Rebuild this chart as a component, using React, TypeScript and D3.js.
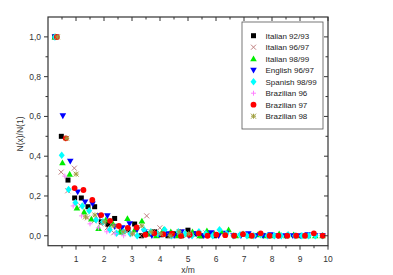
import React from "react";
import * as d3 from "d3";

const xTicks = [1, 2, 3, 4, 5, 6, 7, 8, 9, 10];
const yTicks = [0, 0.2, 0.4, 0.6, 0.8, 1.0];

const seriesNames = ["Italian 92/93", "Italian 96/97", "Italian 98/99", "English 96/97", "Spanish 98/99", "Brazilian 96", "Brazilian 97", "Brazilian 98"];
const seriesColors = ["#000000", "#c08080", "#00ee00", "#0000ff", "#00ffff", "#ff80ff", "#ff0000", "#a0a040"];
const seriesMarkers = ["square", "cross", "triangle", "down", "diamond", "plus", "circle", "star"];
// x/m spacing (1/m) for each series
const seriesSteps = [0.238, 0.235, 0.258, 0.265, 0.245, 0.3, 0.3165, 0.335];

const italian9293 = [1.0, 0.5, 0.28, 0.19, 0.19, 0.146, 0.146, 0.07, 0.057, 0.087, 0.02, 0.03, 0.059, 0.0, 0.01, 0.02, 0.005, 0.0, 0.01, 0.0, 0.028, 0.01, 0.0, 0.005, 0.0];
const italian9697 = [1.0, 0.32, 0.226, 0.34, 0.15, 0.09, 0.075, 0.06, 0.04, 0.015, 0.03, 0.02, 0.01, 0.0, 0.1, 0.02, 0.04, 0.01, 0.0, 0.02, 0.0, 0.01, 0.0, 0.015, 0.01];
const italian9899 = [1.0, 0.367, 0.31, 0.14, 0.12, 0.084, 0.037, 0.08, 0.06, 0.02, 0.087, 0.03, 0.074, 0.01, 0.0, 0.03, 0.02, 0.0, 0.01, 0.02, 0.0, 0.025, 0.01, 0.02, 0.03, 0.0, 0.01, 0.0, 0.005, 0.0, 0.0, 0.01, 0.0, 0.005, 0.0, 0.0, 0.0, 0.0];
const english9697 = [1.0, 0.603, 0.375, 0.22, 0.17, 0.16, 0.1, 0.1, 0.045, 0.04, 0.06, 0.03, 0.02, 0.0, 0.005, 0.01, 0.0, 0.02, 0.0, 0.01, 0.0, 0.015, 0.0, 0.012, 0.0, 0.0, 0.01, 0.0, 0.0, 0.005, 0.0, 0.0, 0.0, 0.0, 0.005, 0.0, 0.0];
const spanish9899 = [1.0, 0.405, 0.233, 0.166, 0.15, 0.126, 0.08, 0.07, 0.03, 0.012, 0.02, 0.01, 0.0, 0.03, 0.02, 0.01, 0.03, 0.0, 0.02, 0.01, 0.0, 0.02, 0.01, 0.0, 0.03, 0.01, 0.0, 0.005, 0.0, 0.0, 0.005, 0.0, 0.0, 0.0, 0.005, 0.0, 0.0, 0.0, 0.0, 0.0];
const brazilian96 = [1.0, 0.3, 0.15, 0.1, 0.06, 0.04, 0.02, 0.01, 0.0, 0.01];
const brazilian97 = [1.0, 0.49, 0.24, 0.23, 0.18, 0.104, 0.075, 0.049, 0.04, 0.042, 0.005, 0.012, 0.008, 0.01, 0.0, 0.005, 0.012, 0.0, 0.005, 0.003, 0.0, 0.008, 0.0, 0.012, 0.0, 0.0, 0.0, 0.0, 0.0, 0.012, 0.0];
const brazilian98 = [1.0, 0.49, 0.31, 0.095, 0.104, 0.07, 0.05, 0.02, 0.01, 0.05, 0.02, 0.01, 0.0, 0.02, 0.01];

const seriesValues = [italian9293, italian9697, italian9899, english9697, spanish9899, brazilian96, brazilian97, brazilian98];

const W = 393, H = 275;
const L = 48, R = 328, T = 17, B = 245.7;

function markerPath(type: string, s: number): string {
  const h = s / 2;
  switch (type) {
    case "square": return `M${-h},${-h}H${h}V${h}H${-h}Z`;
    case "triangle": return `M0,${-h * 1.1}L${h * 1.1},${h * 0.85}L${-h * 1.1},${h * 0.85}Z`;
    case "down": return `M0,${h * 1.1}L${h * 1.1},${-h * 0.85}L${-h * 1.1},${-h * 0.85}Z`;
    case "diamond": return `M0,${-h * 1.25}L${h},0L0,${h * 1.25}L${-h},0Z`;
    case "cross": return `M${-h},${-h}L${h},${h}M${-h},${h}L${h},${-h}`;
    case "plus": return `M${-h},0H${h}M0,${-h}V${h}`;
    case "star": return `M${-h},${-h}L${h},${h}M${-h},${h}L${h},${-h}M${-h},0H${h}M0,${-h}V${h}`;
    default: return "";
  }
}

function Marker({ type, color, x, y }: { type: string; color: string; x: number; y: number }) {
  if (type === "circle") return <circle cx={x} cy={y} r={2.9} fill={color} />;
  const stroked = type === "cross" || type === "plus" || type === "star";
  const size = type === "square" ? 5 : stroked ? 5 : 6;
  return (
    <path
      transform={`translate(${x},${y})`}
      d={markerPath(type, size)}
      fill={stroked ? "none" : color}
      stroke={stroked ? color : "none"}
      strokeWidth={stroked ? 1 : 0}
    />
  );
}

export default function App() {
  const x = d3.scaleLinear().domain([0, 10]).range([L, R]);
  const y = d3.scaleLinear().domain([-0.05, 1.1]).range([B, T]);
  const fmt = (v: number) => v.toFixed(1).replace(".", ",");
  const xMinor = d3.range(0.5, 10, 1);
  const yMinor = d3.range(-0.0, 1.1, 0.1).filter((v) => Math.abs(Math.round(v * 10) % 2) === 1);
  const axisColor = "#333";
  const font = "Liberation Sans, Arial, sans-serif";

  return (
    <svg width={W} height={H} style={{ position: "absolute", left: 0, top: 0, background: "#fff" }}>
      {/* data */}
      {seriesValues.map((vals, si) => (
        <g key={si}>
          {vals.map((v, i) => (
            <Marker key={i} type={seriesMarkers[si]} color={seriesColors[si]} x={x((i + 1) * seriesSteps[si])} y={y(v)} />
          ))}
        </g>
      ))}
      {/* frame */}
      <rect x={L} y={T} width={R - L} height={B - T} fill="none" stroke={axisColor} strokeWidth={1.2} />
      {/* bottom ticks */}
      {xTicks.map((t) => (
        <g key={"xb" + t}>
          <line x1={x(t)} x2={x(t)} y1={B} y2={B + 4} stroke={axisColor} />
          <line x1={x(t)} x2={x(t)} y1={T} y2={T + 4} stroke={axisColor} />
          <text x={x(t)} y={262} textAnchor="middle" fontSize={8.5} fontFamily={font} fill="#333">{t}</text>
        </g>
      ))}
      {xMinor.map((t) => (
        <g key={"xm" + t}>
          <line x1={x(t)} x2={x(t)} y1={B} y2={B + 2.5} stroke={axisColor} />
          <line x1={x(t)} x2={x(t)} y1={T} y2={T + 2.5} stroke={axisColor} />
        </g>
      ))}
      {yTicks.map((t) => (
        <g key={"y" + t}>
          <line x1={L - 4} x2={L} y1={y(t)} y2={y(t)} stroke={axisColor} />
          <line x1={R - 4} x2={R} y1={y(t)} y2={y(t)} stroke={axisColor} />
          <text x={41} y={y(t) + 3} textAnchor="end" fontSize={8.5} fontFamily={font} fill="#333">{fmt(t)}</text>
        </g>
      ))}
      {yMinor.map((t) => (
        <g key={"ym" + t}>
          <line x1={L - 2.5} x2={L} y1={y(t)} y2={y(t)} stroke={axisColor} />
          <line x1={R - 2.5} x2={R} y1={y(t)} y2={y(t)} stroke={axisColor} />
        </g>
      ))}
      {/* axis titles */}
      <text x={188} y={273} textAnchor="middle" fontSize={8.5} fontFamily={font} fill="#333">x/m</text>
      <text transform={`translate(23,134) rotate(-90)`} textAnchor="middle" fontSize={8.5} fontFamily={font} fill="#333">N(x)/N(1)</text>
      {/* legend */}
      <rect x={242} y={22} width={81} height={107} fill="#fff" stroke="#555" strokeWidth={0.8} />
      {seriesNames.map((n, i) => (
        <g key={"lg" + i}>
          <Marker type={seriesMarkers[i]} color={seriesColors[i]} x={253.5} y={35.7 + i * 11.5} />
          <text x={265.5} y={35.7 + i * 11.5 + 3} fontSize={8} fontFamily={font} fill="#222">{n}</text>
        </g>
      ))}
    </svg>
  );
}
